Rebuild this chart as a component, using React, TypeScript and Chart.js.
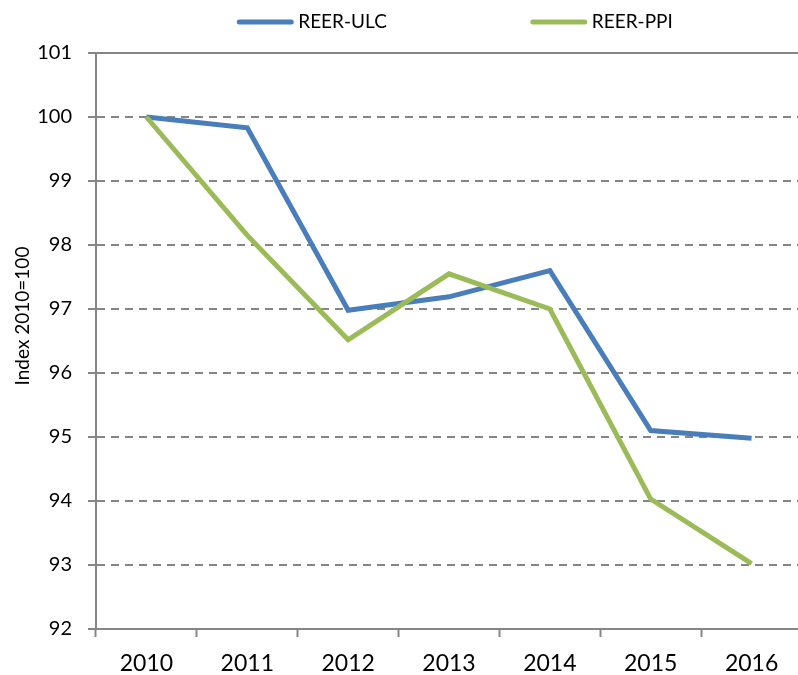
import { useEffect, useRef } from "react";
import { Chart, registerables } from "chart.js";

Chart.register(...registerables);

const categories = ["2010", "2011", "2012", "2013", "2014", "2015", "2016"];
const reerUlc = [100, 99.83, 96.98, 97.19, 97.6, 95.1, 94.98];
const reerPpi = [100, 98.15, 96.52, 97.55, 97.0, 94.03, 93.02];
const seriesLabels = ["REER-ULC", "REER-PPI"];
const seriesColors = ["#4A7EBB", "#9BBB59"];
const yMin = 92;
const yMax = 101;
const yStep = 1;
const yTitle = "Index 2010=100";

const FONT = "Lato, 'Noto Sans', sans-serif";
const GRID = "#868686";

const customLegend = {
  id: "customLegend",
  afterDraw(chart: any) {
    const { ctx, chartArea } = chart;
    ctx.save();
    // solid top border line at max
    const yTop = chart.scales.y.getPixelForValue(yMax);
    ctx.strokeStyle = GRID;
    ctx.lineWidth = 2;
    ctx.beginPath();
    ctx.moveTo(chartArea.left, yTop);
    ctx.lineTo(chartArea.right, yTop);
    ctx.stroke();

    // y axis title, placed a little above the plot centre as in the reference
    ctx.save();
    ctx.font = `19px ${FONT}`;
    ctx.fillStyle = "#000";
    ctx.textAlign = "center";
    ctx.textBaseline = "middle";
    ctx.translate(22.5, (chartArea.top + chartArea.bottom) / 2 - 25);
    ctx.rotate(-Math.PI / 2);
    ctx.fillText(yTitle, 0, 0);
    ctx.restore();

    ctx.font = `19px ${FONT}`;
    ctx.textBaseline = "middle";
    ctx.textAlign = "left";
    const lineLen = 56;
    const gap = 5;
    const itemGap = 144;
    const items = chart.data.datasets.map((d: any) => ({
      label: d.label,
      color: d.borderColor,
      w: ctx.measureText(d.label).width,
    }));
    let total = 0;
    items.forEach((it: any, i: number) => {
      total += lineLen + gap + it.w + (i < items.length - 1 ? itemGap : 0);
    });
    let x = (chartArea.left + chartArea.right) / 2 - total / 2 + 6;
    const y = 22;
    items.forEach((it: any) => {
      ctx.strokeStyle = it.color;
      ctx.lineWidth = 5;
      ctx.lineCap = "round";
      ctx.beginPath();
      ctx.moveTo(x + 2, y);
      ctx.lineTo(x + lineLen - 2, y);
      ctx.stroke();
      ctx.fillStyle = "#000";
      ctx.fillText(it.label, x + lineLen + gap, y);
      x += lineLen + gap + it.w + itemGap;
    });
    ctx.restore();
  },
};

export default function App() {
  const ref = useRef<HTMLCanvasElement | null>(null);
  useEffect(() => {
    if (!ref.current) return;
    const chart = new Chart(ref.current, {
      type: "line",
      data: {
        labels: categories,
        datasets: [
          {
            label: seriesLabels[0],
            data: reerUlc,
            borderColor: seriesColors[0],
            backgroundColor: seriesColors[0],
            borderWidth: 5,
            pointRadius: 0,
            tension: 0,
            order: 1,
          },
          {
            label: seriesLabels[1],
            data: reerPpi,
            borderColor: seriesColors[1],
            backgroundColor: seriesColors[1],
            borderWidth: 5,
            pointRadius: 0,
            tension: 0,
            order: 0,
          },
        ],
      },
      options: {
        responsive: false,
        animation: false,
        layout: { padding: { top: 53, left: 0, right: 4, bottom: 0 } },
        plugins: {
          legend: { display: false },
          tooltip: { enabled: false },
        },
        scales: {
          x: {
            offset: true,
            grid: {
              offset: true,
              drawOnChartArea: false,
              drawTicks: true,
              tickLength: 8,
              tickColor: GRID,
              tickWidth: 2,
            },
            border: { color: GRID, width: 2 },
            ticks: {
              color: "#000",
              font: { family: FONT, size: 23 },
              padding: 13,
              maxRotation: 0,
            },
            afterFit: (s: any) => {
              s.height = 46;
            },
          },
          y: {
            min: yMin,
            max: yMax,
            ticks: {
              stepSize: yStep,
              color: "#000",
              font: { family: FONT, size: 20 },
              padding: 16,
            },
            grid: {
              color: GRID,
              lineWidth: 2,
              tickLength: 8,
              tickColor: GRID,
              tickWidth: 2,
            },
            border: { color: GRID, width: 2, dash: [8, 6] },
            title: { display: false },
            afterFit: (s: any) => {
              s.width = 96;
            },
          },
        },
      },
      plugins: [customLegend],
    });
    return () => chart.destroy();
  }, []);
  return (
    <div
      style={{
        position: "fixed",
        left: 0,
        top: 0,
        width: 798,
        height: 675,
        overflow: "hidden",
        background: "#fff",
      }}
    >
      <canvas ref={ref} width={806} height={675} style={{ display: "block" }} />
    </div>
  );
}
